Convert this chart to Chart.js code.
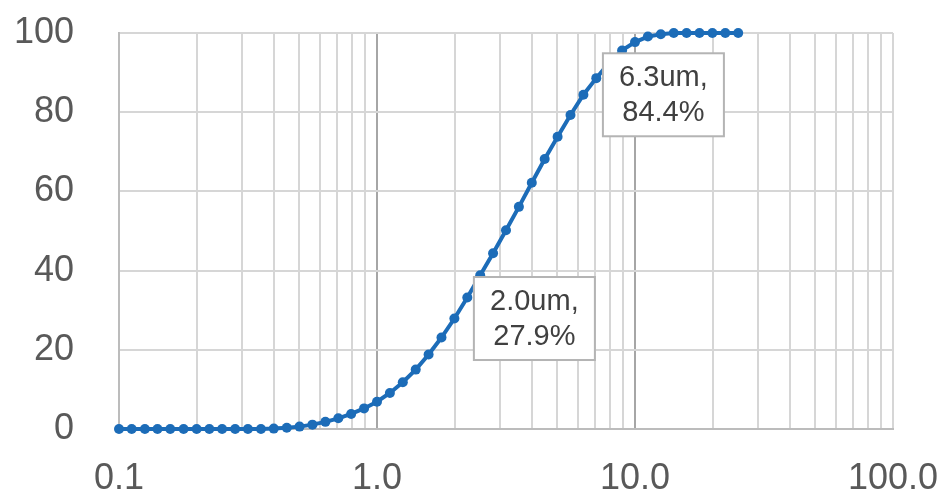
<!DOCTYPE html>
<html>
<head>
<meta charset="utf-8">
<script src="https://cdn.jsdelivr.net/npm/chart.js@4.4.1/dist/chart.umd.min.js"></script>
<style>
  html, body { margin: 0; padding: 0; background: #fff; }
  #chart { display: block; }
</style>
</head>
<body>
<canvas id="chart" width="941" height="494"></canvas>
<script>
// particle size (um) and cumulative passing (%)
const particleSizes = [
  0.100, 0.112, 0.126, 0.141, 0.158, 0.178, 0.200, 0.224, 0.251, 0.282,
  0.316, 0.355, 0.398, 0.447, 0.501, 0.562, 0.631, 0.708, 0.794, 0.891,
  1.000, 1.122, 1.259, 1.413, 1.585, 1.778, 1.995, 2.239, 2.512, 2.818,
  3.162, 3.548, 3.981, 4.467, 5.012, 5.623, 6.310, 7.079, 7.943, 8.913,
  10.00, 11.22, 12.59, 14.13, 15.85, 17.78, 19.95, 22.39, 25.12
];
const cumulativePct = [
  0, 0, 0, 0, 0, 0, 0, 0, 0, 0,
  0, 0, 0.1, 0.3, 0.6, 1.1, 1.8, 2.7, 3.8, 5.2,
  6.9, 9.1, 11.8, 15.0, 18.8, 23.1, 27.9, 33.2, 38.8, 44.4,
  50.2, 56.1, 62.2, 68.2, 73.8, 79.3, 84.4, 88.6, 92.5, 95.6,
  97.7, 99.1, 99.7, 100, 100, 100, 100, 100, 100
];

// log axis grid positions and the labelled decades
const xTickValues = [
  0.1, 0.2, 0.3, 0.4, 0.5, 0.6, 0.7, 0.8, 0.9,
  1, 2, 3, 4, 5, 6, 7, 8, 9,
  10, 20, 30, 40, 50, 60, 70, 80, 90, 100
];
const xTickLabels = { 0.1: '0.1', 1: '1.0', 10: '10.0', 100: '100.0' };
const xMajorLines = [1, 10];

// points that carry a data label
const labelIndices = [26, 36];

const FONT = '"Liberation Sans", Arial, sans-serif';
const LINE_BLUE = '#1c6cb8';

// ─── data labels (white boxes right of the point) ───
const pointLabels = {
  id: 'pointLabels',
  afterDatasetsDraw(chart) {
    const ctx = chart.ctx;
    const meta = chart.getDatasetMeta(0);
    ctx.save();
    ctx.font = '29px ' + FONT;
    ctx.textAlign = 'center';
    ctx.textBaseline = 'middle';
    labelIndices.forEach((i) => {
      const pt = meta.data[i];
      const cx = pt.x + 80;
      const cy = pt.y;
      const w = 121, h = 83;
      ctx.fillStyle = '#ffffff';
      ctx.fillRect(cx - w / 2, cy - h / 2, w, h);
      ctx.strokeStyle = '#b4b4b4';
      ctx.lineWidth = 2;
      ctx.strokeRect(cx - w / 2, cy - h / 2, w, h);
      ctx.fillStyle = '#404040';
      ctx.fillText(particleSizes[i].toFixed(1) + 'um,', cx, cy - 17);
      ctx.fillText(cumulativePct[i].toFixed(1) + '%', cx, cy + 18);
    });
    ctx.restore();
  }
};

// drop the automatic label overhang padding, layout.padding does it instead
function noPadding(scale) {
  scale.paddingTop = 0;
  scale.paddingBottom = 0;
  scale.paddingLeft = 0;
  scale.paddingRight = 0;
}

const points = particleSizes.map((x, i) => ({ x, y: cumulativePct[i] }));

new Chart(document.getElementById('chart'), {
  type: 'line',
  data: {
    datasets: [{
      data: points,
      borderColor: LINE_BLUE,
      backgroundColor: LINE_BLUE,
      borderWidth: 4,
      pointRadius: 5,
      pointHoverRadius: 5,
      pointBorderWidth: 0,
      tension: 0,
      clip: false,
    }],
  },
  options: {
    responsive: false,
    animation: false,
    layout: { padding: { top: 33, right: 48, left: 0, bottom: 0 } },
    plugins: {
      legend: { display: false },
      tooltip: { enabled: false },
    },
    scales: {
      x: {
        type: 'logarithmic',
        min: 0.1,
        max: 100,
        afterBuildTicks: (scale) => {
          scale.ticks = xTickValues.map((v) => ({ value: v }));
        },
        afterFit: (scale) => { scale.height = 65; noPadding(scale); },
        grid: {
          drawTicks: false,
          lineWidth: 2,
          color: (c) => xMajorLines.includes(c.tick && c.tick.value) ? '#a6a6a6' : '#d6d6d6',
        },
        border: { display: true, color: '#bcbcbc', width: 2 },
        ticks: {
          autoSkip: false,
          maxRotation: 0,
          padding: 28,
          color: '#595959',
          font: { family: FONT, size: 36 },
          callback: (v) => xTickLabels[v] ?? '',
        },
      },
      y: {
        min: 0,
        max: 100,
        afterFit: (scale) => { scale.width = 119; noPadding(scale); },
        grid: {
          drawTicks: false,
          lineWidth: 2,
          color: '#d6d6d6',
        },
        border: { display: true, color: '#bcbcbc', width: 2 },
        ticks: {
          stepSize: 20,
          padding: 45,
          color: '#595959',
          font: { family: FONT, size: 36 },
        },
      },
    },
  },
  plugins: [pointLabels],
});
</script>
</body>
</html>
